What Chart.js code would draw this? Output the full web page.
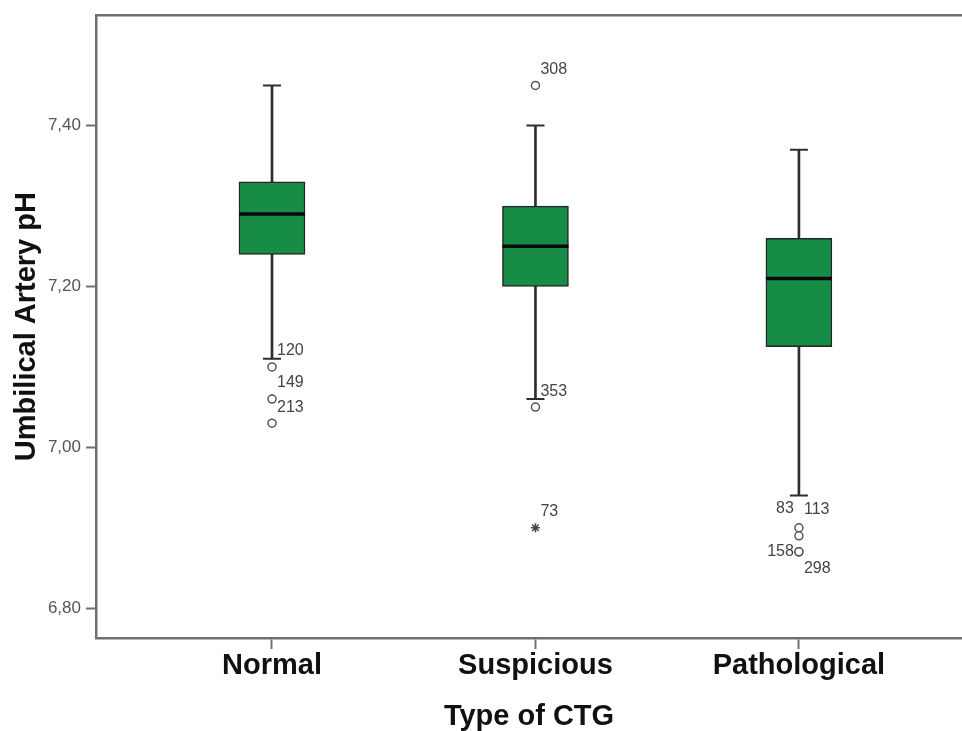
<!DOCTYPE html>
<html>
<head>
<meta charset="utf-8">
<script src="https://cdn.jsdelivr.net/npm/chart.js@4"></script>
<style>
  html, body { margin: 0; padding: 0; background: #fff; overflow: hidden; }
  #wrap { width: 962px; height: 731px; }
</style>
</head>
<body>
<div id="wrap"><canvas id="boxChart" width="962" height="731"></canvas></div>
<script>
// box statistics per CTG group
var categories = ['Normal', 'Suspicious', 'Pathological'];
var whiskerLow = [7.11, 7.06, 6.94];
var quartile1 = [7.24, 7.20, 7.125];
var medians = [7.29, 7.25, 7.21];
var quartile3 = [7.33, 7.30, 7.26];
var whiskerHigh = [7.45, 7.40, 7.37];

// outliers (circles) : group index (1-based), value, case number
var outlierGroup = [1, 1, 1, 2, 2, 3, 3, 3, 3];
var outlierValues = [7.10, 7.06, 7.03, 7.45, 7.05, 6.90, 6.89, 6.87, 6.87];
var outlierIds = ['120', '149', '213', '308', '353', '83', '113', '158', '298'];

// extreme values (stars)
var extremeGroup = [2];
var extremeValues = [6.90];
var extremeIds = ['73'];

var yTicks = [6.80, 7.00, 7.20, 7.40];

var FONT = "'Liberation Sans', Arial, sans-serif";
var AXIS_GREY = '#707070';

function xy(groups, values) {
    return values.map(function (v, i) { return { x: groups[i], y: v }; });
}
var groupIdx = categories.map(function (c, i) { return i + 1; });

// where each case label sits relative to its point
var labelNudge = {
    '83':  [-5, -19, 'right'],
    '113': [5, -26, 'left'],
    '158': [-5, 0, 'right'],
    '298': [5, 17, 'left']
};

var caseLabels = {
    id: 'caseLabels',
    afterDatasetsDraw: function (chart) {
        var ctx = chart.ctx;
        ctx.save();
        ctx.font = "16px " + FONT;
        ctx.fillStyle = '#444';
        ctx.textBaseline = 'middle';
        [[4, outlierIds], [5, extremeIds]].forEach(function (pair) {
            var meta = chart.getDatasetMeta(pair[0]);
            meta.data.forEach(function (pt, i) {
                var id = pair[1][i];
                var n = labelNudge[id] || [5, -16, 'left'];
                ctx.textAlign = n[2];
                ctx.fillText(id, pt.x + n[0], pt.y + n[1]);
            });
        });
        // top frame line
        var a = chart.chartArea;
        ctx.strokeStyle = AXIS_GREY;
        ctx.lineWidth = 2.5;
        ctx.beginPath();
        ctx.moveTo(a.left - 1, a.top);
        ctx.lineTo(a.right, a.top);
        ctx.stroke();
        ctx.restore();
    }
};

var ctx = document.getElementById('boxChart');

var config = {
    type: 'bar',
    data: {
        datasets: [
            {
                // whisker stems
                type: 'bar',
                data: groupIdx.map(function (g, i) { return { x: g, y: [whiskerLow[i], whiskerHigh[i]] }; }),
                backgroundColor: '#2e2e2e',
                borderWidth: 0,
                barThickness: 2,
                grouped: false,
                order: 6
            },
            {
                // boxes
                type: 'bar',
                data: groupIdx.map(function (g, i) { return { x: g, y: [quartile1[i], quartile3[i]] }; }),
                backgroundColor: '#178c47',
                borderColor: '#262626',
                borderWidth: 1.5,
                borderSkipped: false,
                barThickness: 66,
                grouped: false,
                order: 5
            },
            {
                // medians
                type: 'scatter',
                data: xy(groupIdx, medians),
                pointStyle: 'line',
                radius: 33,
                borderColor: '#0a0a0a',
                borderWidth: 3.5,
                order: 4
            },
            {
                // whisker caps
                type: 'scatter',
                data: xy(groupIdx.concat(groupIdx), whiskerLow.concat(whiskerHigh)),
                pointStyle: 'line',
                radius: 9,
                borderColor: '#2e2e2e',
                borderWidth: 2,
                order: 3
            },
            {
                // outliers
                type: 'scatter',
                data: xy(outlierGroup, outlierValues),
                pointStyle: 'circle',
                radius: 4,
                backgroundColor: '#fff',
                borderColor: '#555',
                borderWidth: 1.5,
                order: 2
            },
            {
                // extremes
                type: 'scatter',
                data: xy(extremeGroup, extremeValues),
                pointStyle: 'star',
                radius: 4.5,
                borderColor: '#444',
                borderWidth: 1.5,
                order: 1
            }
        ]
    },
    options: {
        responsive: false,
        devicePixelRatio: 1,
        animation: false,
        layout: { autoPadding: false, padding: { top: 12, right: 0, left: 0, bottom: 0 } },
        plugins: {
            legend: { display: false },
            tooltip: { enabled: false }
        },
        scales: {
            x: {
                type: 'linear',
                offset: false,
                min: 0.332,
                max: 3.619,
                afterBuildTicks: function (scale) {
                    scale.ticks = groupIdx.map(function (g) { return { value: g }; });
                },
                afterFit: function (scale) { scale.height = 93; },
                ticks: {
                    autoSkip: false,
                    padding: 0,
                    color: '#111',
                    font: { family: FONT, size: 29, weight: 'bold' },
                    callback: function (v) { return categories[v - 1]; }
                },
                grid: { offset: false, drawOnChartArea: false, drawTicks: true, tickLength: 11, color: AXIS_GREY, tickWidth: 2 },
                border: { color: AXIS_GREY, width: 2.5 },
                title: {
                    display: true,
                    text: 'Type of CTG',
                    color: '#111',
                    padding: { top: 0, bottom: 0 },
                    font: { family: FONT, size: 29, weight: 'bold', lineHeight: 1 }
                }
            },
            y: {
                type: 'linear',
                min: 6.7629,
                max: 7.5373,
                afterBuildTicks: function (scale) {
                    scale.ticks = yTicks.map(function (v) { return { value: v }; });
                },
                afterFit: function (scale) { scale.width = 96; },
                ticks: {
                    padding: 5,
                    color: '#555',
                    font: { family: FONT, size: 17 },
                    callback: function (v) { return v.toFixed(2).replace('.', ','); }
                },
                grid: { drawOnChartArea: false, drawTicks: true, tickLength: 10, color: AXIS_GREY, tickWidth: 2 },
                border: { color: AXIS_GREY, width: 2.5 },
                title: {
                    display: true,
                    text: 'Umbilical Artery pH',
                    color: '#111',
                    padding: { top: 12, bottom: 0 },
                    font: { family: FONT, size: 29, weight: 'bold', lineHeight: 1 }
                }
            }
        }
    },
    plugins: [caseLabels]
};

var boxChart = new Chart(ctx, config);
</script>
</body>
</html>
